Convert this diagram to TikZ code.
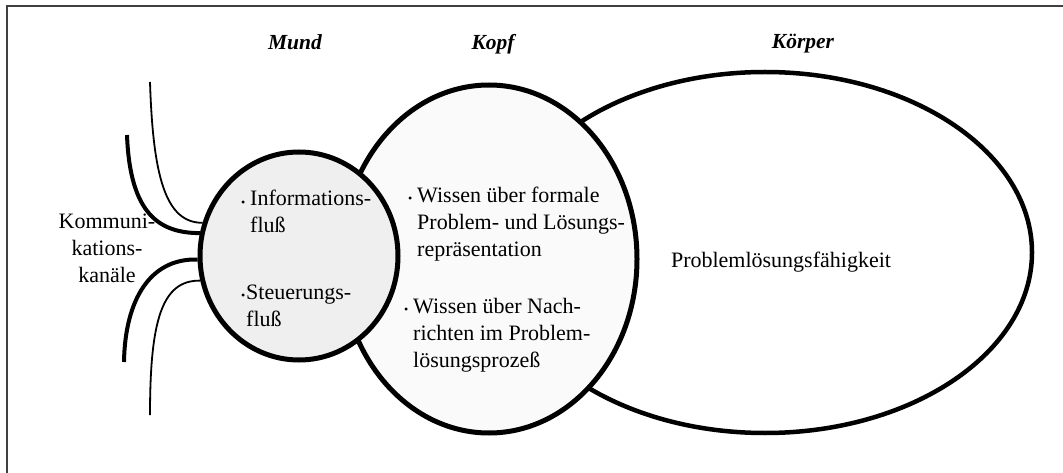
\documentclass[tikz,border=0pt]{standalone}
\usepackage{fontspec}
\setmainfont{Liberation Serif}
\usetikzlibrary{shapes.geometric}
\definecolor{mundfill}{HTML}{EFEFEF}
\definecolor{kopffill}{HTML}{FAFAFA}
\definecolor{framecol}{HTML}{404040}
\newcommand{\bul}[1]{\llap{{\fontsize{12}{12}\selectfont\raisebox{-0.5pt}{•}}\hspace{#1}}}
\begin{document}
\begin{tikzpicture}[x=1pt,y=-1pt,
  blob/.style={ellipse,draw=black,inner sep=0pt},
  title/.style={font=\fontsize{21.5}{26}\selectfont\bfseries\itshape,anchor=base},
  body/.style={font=\fontsize{22}{27}\selectfont,inner sep=0pt,align=left,anchor=base west},
  thinch/.style={line width=1.8pt},
  thickch/.style={line width=4pt}]
\useasboundingbox (0,0) rectangle (1063,473);
% frame (top and left edges)
\draw[framecol,line width=1.6pt] (7,473) -- (7,6) -- (1063,6);
% shapes
\node[blob,line width=4.5pt,fill=white,minimum width=534pt,minimum height=361pt] (koerper) at (765,252.5) {};
\node[blob,line width=5pt,fill=kopffill,minimum width=296pt,minimum height=348pt] (kopf) at (489,259) {};
\node[blob,line width=5pt,fill=mundfill,minimum width=198pt,minimum height=208pt] (mund) at (299,256) {};
% titles
\node[title] (tmund) at (295,50) {Mund};
\node[title] (tkopf) at (493,50) {Kopf};
\node[title] (tkoerper) at (803,49) {Körper};
% texts (anchor = baseline of last line)
\node[body] (minfo) at (250,233) {\bul{5pt}Informations-\\fluß};
\node[body] (msteu) at (246,326) {\bul{1pt}Steuerungs-\\fluß};
\node[body] (kw1) at (417,256) {\bul{5pt}Wissen über formale\\Problem- und Lösungs-\\repräsentation};
\node[body] (kw2) at (413,367) {\bul{5pt}Wissen über Nach-\\richten im Problem-\\lösungsprozeß};
\node[body,anchor=base] (kp) at (781,268) {Problemlösungsfähigkeit};
\node[body,align=center,anchor=base] (kk) at (107,282) {Kommuni-\\kations-\\kanäle};
% channels
\coordinate (c1) at (150,82);
\coordinate (c2) at (127,135);
\coordinate (c3) at (124,362);
\coordinate (c4) at (150,415);
\draw[thinch] (c1) .. controls (153,175) and (165,223) .. (mund.161);
\draw[thickch] (c2) .. controls (130,215) and (160,233) .. (mund.167);
\draw[thickch] (mund.182) .. controls (150,258) and (125,300) .. (c3);
\draw[thinch] (mund.194) .. controls (162,280) and (150,320) .. (c4);
\end{tikzpicture}
\end{document}
